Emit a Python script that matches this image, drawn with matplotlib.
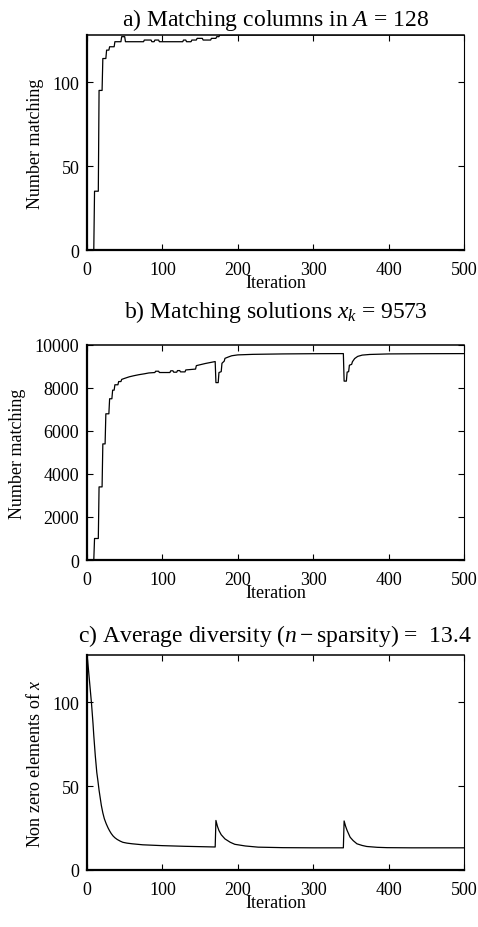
import numpy as np
import matplotlib
matplotlib.use("Agg")
import matplotlib.pyplot as plt

plt.rcParams["font.family"] = ["Liberation Serif", "DejaVu Serif"]
plt.rcParams["mathtext.fontset"] = "custom"
plt.rcParams["mathtext.rm"] = "Liberation Serif"
plt.rcParams["mathtext.it"] = "Liberation Serif:italic"

# a) matching columns in A
iter_a = [0, 9, 10, 15, 16, 20, 21, 25, 26, 29, 30, 36, 37, 45, 46, 50, 51, 75, 76,
          85, 86, 89, 90, 95, 96, 127, 128, 131, 132, 138, 139, 145, 146, 153, 154,
          164, 165, 171, 172, 175, 176, 500]
match_a = [0, 0, 35, 35, 95, 95, 114, 114, 119, 119, 121, 121, 124, 124, 127, 127, 124, 124, 125,
           125, 124, 124, 125, 125, 124, 124, 125, 125, 124, 124, 125, 125, 126, 126, 125,
           125, 126, 126, 127, 127, 128, 128]

# b) matching solutions x_k
iter_b = [0, 9, 10, 15, 16, 20, 21, 24, 25, 29, 30, 33, 34, 36, 37, 41, 42, 45, 46,
          50, 56, 62, 69, 76, 82, 90, 91, 95, 96, 110, 111, 114, 115, 119, 120, 123, 124,
          130, 131, 144, 145, 157, 170, 171, 174, 175, 178, 179, 182, 183, 188, 192, 200,
          220, 260, 300, 340, 341, 344, 345, 347, 348, 351, 352, 355, 359, 365, 375, 400,
          450, 500]
match_b = [0, 0, 1000, 1000, 3400, 3400, 5400, 5400, 6800, 6800, 7500, 7500, 7900, 7900, 8150, 8150, 8300, 8300, 8400,
           8450, 8520, 8570, 8620, 8660, 8700, 8720, 8780, 8780, 8720, 8720, 8800, 8800, 8735, 8735, 8810, 8810, 8750,
           8750, 8840, 8880, 9040, 9140, 9230, 8250, 8250, 8720, 8760, 9150, 9250, 9380, 9450, 9500, 9540,
           9565, 9585, 9595, 9600, 8320, 8320, 8740, 8760, 9060, 9100, 9220, 9370, 9470, 9530, 9560, 9585,
           9595, 9600]

# c) average diversity
iter_c = [0, 1, 2, 3, 4, 5, 6, 7, 8, 9, 10, 11, 12, 13, 14.5, 16, 17.5, 19, 21, 23, 25.5,
          28, 30, 32, 34.5, 37, 40, 44, 47.5, 53, 60, 74,
          100, 130, 170, 171, 173, 175, 178, 183, 190, 196, 210, 227, 260, 300, 340,
          341, 343, 345, 349, 353, 358, 365, 371, 385, 398, 430, 500]
nz_c = [128, 124, 119, 114, 109, 104, 99, 93, 87, 80, 74, 68, 63, 58, 53, 47.5, 43, 38.5, 34, 30.5, 27.5,
        25, 23.3, 21.8, 20.3, 19.2, 18.2, 17.2, 16.5, 16.0, 15.6, 15.0,
        14.5, 14.1, 13.7, 29.5, 26, 23.5, 21, 18.5, 16.5, 15.3, 14.3, 13.6, 13.3, 13.2, 13.2,
        29.2, 26, 23.5, 19.5, 17.5, 15.6, 14.6, 14.0, 13.5, 13.3, 13.2, 13.2]

panels = [
    (iter_a, match_a, r"a) Matching columns in $A$ = 128", "Number matching",
     (0, 128), [0, 50, 100], 7),
    (iter_b, match_b, r"b) Matching solutions $x_k$ = 9573", "Number matching",
     (0, 10000), [0, 2000, 4000, 6000, 8000, 10000], 20),
    (iter_c, nz_c, r"c) Average diversity ($n-$sparsity) =  13.4", r"Non zero elements of $x$",
     (0, 128), [0, 50, 100], 10),
]

fig = plt.figure(figsize=(4.78, 9.28), dpi=100)
W, H = 478, 928
left, right = 87, 464
tops = [36, 346, 656]
height = 215

for (x, y, title, ylabel, ylim, yticks, tpad), top in zip(panels, tops):
    ax = fig.add_axes([left / W, 1 - (top + height) / H, (right - left) / W, height / H])
    ax.plot(x, y, color="black", lw=0.9)
    ax.set_xlim(0, 500)
    ax.set_ylim(*ylim)
    ax.set_xticks([0, 100, 200, 300, 400, 500])
    ax.set_yticks(yticks)
    ax.tick_params(direction="in", top=True, right=True, length=4, width=0.8,
                   labelsize=13, pad=5.5)
    ax.tick_params(axis="x", pad=8)
    for side, lw in (("left", 1.6), ("bottom", 1.6), ("top", 1.1), ("right", 0.8)):
        ax.spines[side].set_linewidth(lw)
    ax.set_xlabel("Iteration", fontsize=13)
    ax.xaxis.set_label_coords(0.5, -0.11)
    ax.set_ylabel(ylabel, fontsize=13, labelpad=6)
    ax.set_title(title, fontsize=17, pad=tpad)

fig.savefig("out.png", dpi=100)
